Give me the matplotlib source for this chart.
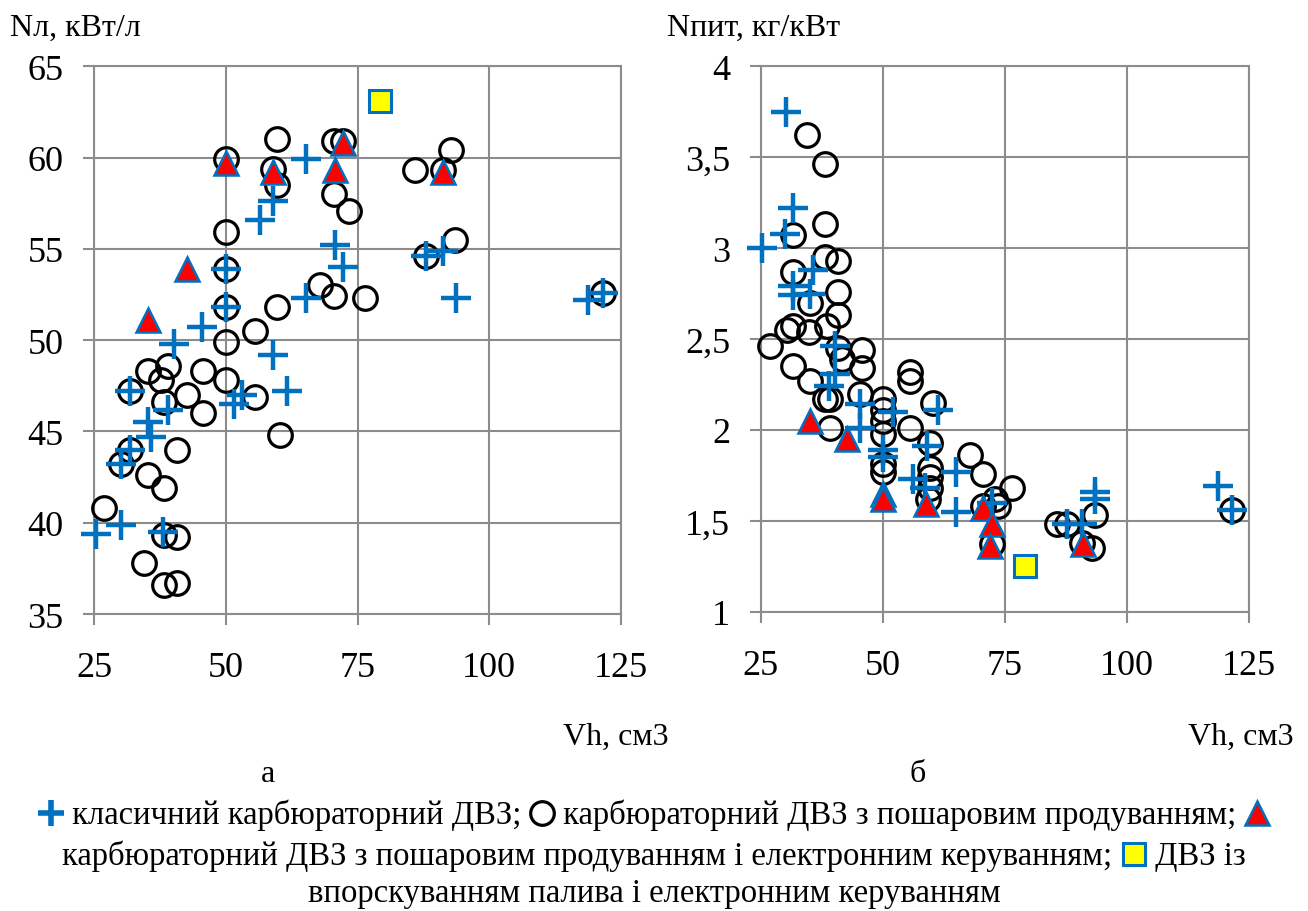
import matplotlib
matplotlib.use('Agg')
import matplotlib.pyplot as plt
from matplotlib.lines import Line2D

plt.rcParams['font.family'] = ['Liberation Serif', 'DejaVu Serif']

# ---------------- data ----------------
x_ticks = [25, 50, 75, 100, 125]
x_tick_labels = ['25', '50', '75', '100', '125']
yL_ticks = [35, 40, 45, 50, 55, 60, 65]
yL_tick_labels = ['35', '40', '45', '50', '55', '60', '65']
yR_ticks = [1, 1.5, 2, 2.5, 3, 3.5, 4]
yR_tick_labels = ['1', '1,5', '2', '2,5', '3', '3,5', '4']

# panel a: Nл (kW/l) vs Vh (cm3)
a_plus_x = [25.4, 30.1, 38.0, 30.1, 31.8, 35.8, 35.3, 39.0, 31.8, 51.6, 53.1, 61.6, 40.1, 45.4,
            59.0, 50.0, 50.0, 65.2, 56.5, 59.0, 65.2, 70.7, 72.3, 88.0, 91.2, 93.7, 118.8, 121.6]
a_plus_y = [39.4, 39.9, 39.5, 43.2, 44.0, 44.7, 45.5, 46.2, 47.2, 46.5, 47.0, 47.2, 49.8, 50.7,
            49.2, 51.8, 53.9, 52.3, 56.6, 57.6, 59.9, 55.2, 54.0, 54.6, 54.9, 52.3, 52.2, 52.6]
a_circ_x = [50.0, 59.8, 58.9, 59.8, 70.6, 72.3, 70.6, 73.4, 50.0, 50.0, 50.0, 67.9, 70.6, 76.4,
            59.8, 55.5, 50.0, 35.2, 39.1, 37.7, 45.6, 50.1, 42.6, 38.3, 55.5, 45.6, 31.8, 60.3,
            31.8, 30.1, 40.8, 35.2, 38.2, 26.9, 38.2, 40.8, 34.4, 38.2, 40.8, 92.7, 86.0, 91.3,
            93.5, 88.0, 121.6]
a_circ_y = [59.9, 61.0, 59.4, 58.5, 60.9, 60.9, 58.0, 57.1, 55.9, 53.9, 51.8, 53.0, 52.4, 52.3,
            51.8, 50.5, 49.9, 48.3, 48.6, 47.8, 48.3, 47.8, 47.0, 46.6, 46.9, 46.0, 47.2, 44.8,
            44.0, 43.2, 44.0, 42.6, 41.9, 40.8, 39.3, 39.2, 37.8, 36.6, 36.7, 60.4, 59.3, 59.3,
            55.5, 54.6, 52.6]
a_tri_x = [50.1, 58.9, 70.7, 72.3, 42.6, 35.2, 91.3]
a_tri_y = [59.7, 59.2, 59.3, 60.8, 53.9, 51.1, 59.2]
a_sq_x = [79.3]
a_sq_y = [63.1]

# panel b: Nпит (kg/kW) vs Vh (cm3)
b_plus_x = [30.1, 31.7, 30.0, 25.2, 35.8, 31.7, 31.7, 35.1, 40.2, 40.2, 38.9, 45.3, 52.2, 61.4,
            45.3, 50.1, 50.1, 59.0, 65.0, 56.3, 58.7, 65.0, 72.3, 87.8, 90.8, 93.5, 93.5, 118.8, 121.6]
b_plus_y = [3.75, 3.22, 3.08, 3.00, 2.88, 2.79, 2.74, 2.75, 2.46, 2.31, 2.24, 2.14, 2.10, 2.11,
            2.01, 1.89, 1.85, 1.91, 1.77, 1.73, 1.68, 1.55, 1.60, 1.48, 1.48, 1.66, 1.62, 1.69, 1.56]
b_circ_x = [34.4, 38.2, 38.2, 31.7, 38.2, 40.9, 31.7, 35.1, 40.9, 40.9, 31.7, 30.3, 34.8, 38.5,
            26.9, 40.9, 45.7, 31.7, 41.6, 45.7, 35.1, 38.2, 39.2, 45.3, 55.6, 55.6, 50.1, 50.1,
            50.1, 60.4, 55.6, 39.2, 50.1, 50.1, 50.1, 59.7, 59.7, 59.7, 59.7, 59.3, 67.9, 70.6,
            70.6, 73.0, 73.7, 76.4, 72.3, 85.7, 87.7, 90.8, 92.8, 93.5, 121.6]
b_circ_y = [3.62, 3.46, 3.13, 3.07, 2.95, 2.93, 2.87, 2.70, 2.76, 2.63, 2.57, 2.55, 2.54, 2.57,
            2.46, 2.45, 2.44, 2.35, 2.39, 2.34, 2.27, 2.17, 2.17, 2.20, 2.32, 2.27, 2.17, 2.11,
            2.05, 2.15, 2.01, 2.01, 1.98, 1.81, 1.77, 1.93, 1.79, 1.74, 1.68, 1.62, 1.86, 1.76,
            1.58, 1.62, 1.58, 1.68, 1.37, 1.48, 1.48, 1.38, 1.35, 1.53, 1.56]
b_tri_x = [35.1, 42.6, 50.1, 50.1, 58.9, 70.6, 72.3, 72.0, 91.0]
b_tri_y = [2.05, 1.95, 1.65, 1.62, 1.59, 1.57, 1.48, 1.36, 1.37]
b_sq_x = [79.2]
b_sq_y = [1.25]

y_title_a = 'Nл, кВт/л'
y_title_b = 'Nпит, кг/кВт'
x_title = 'Vh, см3'
panel_labels = ['а', 'б']
legend_lines = [
    [('m', 'plus'), ('t', ' класичний карбюраторний ДВЗ; '), ('m', 'circ'),
     ('t', ' карбюраторний ДВЗ з пошаровим продуванням; '), ('m', 'tri')],
    [('t', 'карбюраторний ДВЗ з пошаровим продуванням і електронним керуванням; '), ('m', 'sq'),
     ('t', ' ДВЗ із')],
    [('t', 'впорскуванням палива і електронним керуванням')],
]

# ---------------- style ----------------
BLUE = '#0070C0'
GRID = '#8c8c8c'
STY = {
    'plus': dict(marker='+', markersize=21, markeredgewidth=3.2, color=BLUE, linestyle='none'),
    'circ': dict(marker='o', markersize=17, markeredgewidth=2.3, markerfacecolor='none',
                 markeredgecolor='black', linestyle='none'),
    'tri': dict(marker='^', markersize=17, markeredgewidth=1.8, markerfacecolor='#FF0000',
                markeredgecolor=BLUE, linestyle='none'),
    'sq': dict(marker='s', markersize=16, markeredgewidth=2.2, markerfacecolor='#FFFF00',
               markeredgecolor=BLUE, linestyle='none'),
}

W, H = 1308, 912
fig = plt.figure(figsize=(W / 100, H / 100), dpi=100)
axL = fig.add_axes([94 / W, 1 - 615 / H, (621 - 94) / W, (615 - 67.3) / H])
axR = fig.add_axes([760.7 / W, 1 - 612.7 / H, (1248.7 - 760.7) / W, (612.7 - 67.3) / H])


def style(ax, ylim, yt, ytl):
    ax.set_xlim(25, 125)
    ax.set_ylim(*ylim)
    ax.set_xticks(x_ticks)
    ax.set_xticklabels(x_tick_labels)
    ax.set_yticks(yt)
    ax.set_yticklabels(ytl)
    ax.grid(True, color=GRID, lw=1.5)
    ax.set_axisbelow(True)
    for s in ax.spines.values():
        s.set_color(GRID)
        s.set_linewidth(1.5)
    ax.tick_params(direction='out', length=8, width=1.5, color=GRID, labelsize=26)
    ax.tick_params(axis='y', pad=14)
    ax.tick_params(axis='x', pad=19)


style(axL, (35, 65), yL_ticks, yL_tick_labels)
style(axR, (1, 4), yR_ticks, yR_tick_labels)

for ax, data in [(axL, [(a_circ_x, a_circ_y, 'circ'), (a_plus_x, a_plus_y, 'plus'),
                        (a_tri_x, a_tri_y, 'tri'), (a_sq_x, a_sq_y, 'sq')]),
                 (axR, [(b_circ_x, b_circ_y, 'circ'), (b_plus_x, b_plus_y, 'plus'),
                        (b_tri_x, b_tri_y, 'tri'), (b_sq_x, b_sq_y, 'sq')])]:
    for i, (xs, ys, k) in enumerate(data):
        ax.plot(xs, ys, clip_on=False, zorder=3 + i, **STY[k])

# titles
fig.text(10 / W, 1 - 36 / H, y_title_a, fontsize=23, ha='left', va='baseline')
fig.text(667 / W, 1 - 36 / H, y_title_b, fontsize=23, ha='left', va='baseline')
fig.text(616 / W, 1 - 745 / H, x_title, fontsize=23, ha='center', va='baseline')
fig.text(1241 / W, 1 - 745 / H, x_title, fontsize=23, ha='center', va='baseline')
fig.text(268 / W, 1 - 782 / H, panel_labels[0], fontsize=23, ha='center', va='baseline')
fig.text(918 / W, 1 - 782 / H, panel_labels[1], fontsize=23, ha='center', va='baseline')

# legend lines (centered)
renderer = fig.canvas.get_renderer()
LFS = 23.5
MW = 26
baselines = [824, 865, 902]
for line, base in zip(legend_lines, baselines):
    items = []
    total = 0
    for kind, val in line:
        if kind == 't':
            t = fig.text(0, 0, val, fontsize=LFS, ha='left', va='baseline')
            w = t.get_window_extent(renderer).width
            items.append((kind, t, w))
        else:
            w = MW
            items.append((kind, val, w))
        total += w
    x = 654 - total / 2
    for kind, obj, w in items:
        if kind == 't':
            obj.set_position((x / W, 1 - base / H))
        else:
            st = dict(STY[obj])
            if obj == 'plus':
                st['markersize'] = 19
                st['markeredgewidth'] = 4
            fig.add_artist(Line2D([(x + w / 2) / W], [1 - (base - 10) / H],
                                  transform=fig.transFigure, **st))
        x += w

fig.savefig('out.png', dpi=100)
